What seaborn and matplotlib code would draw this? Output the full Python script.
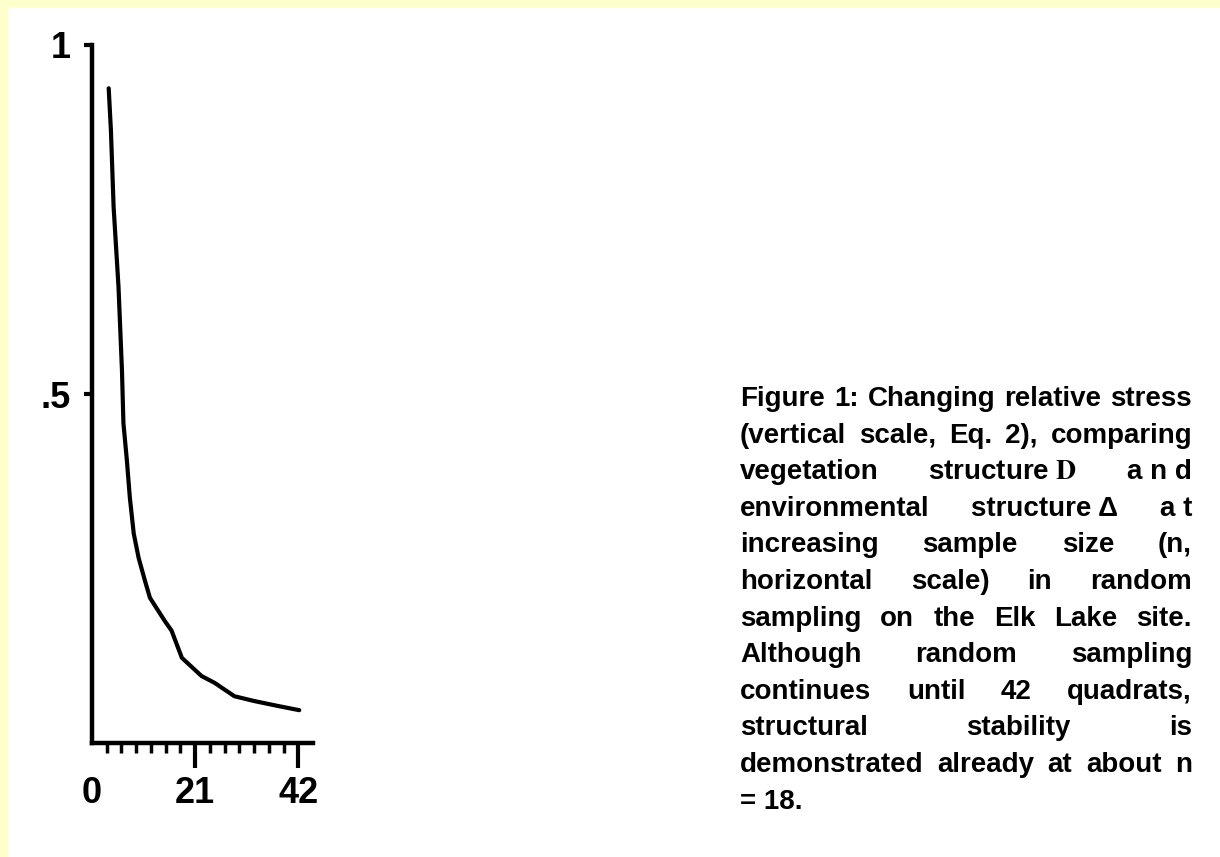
import matplotlib
matplotlib.use("Agg")
import matplotlib.pyplot as plt
import seaborn as sns
import pandas as pd
from matplotlib.patches import Rectangle

# ---- data ----
n_values = [3.4, 3.85, 4.4, 5.4, 6.1, 6.4, 7.1, 7.7, 8.5, 9.5, 10.8, 11.8,
            14.8, 16.2, 18.3, 22.3, 25.0, 29.0, 33.1, 37.9, 42.2]
stress = [0.938, 0.878, 0.768, 0.653, 0.534, 0.458, 0.405, 0.352, 0.300, 0.265,
          0.232, 0.208, 0.175, 0.161, 0.122, 0.096, 0.086, 0.067, 0.060, 0.053, 0.047]
x_major = [0, 21, 42]
x_major_labels = ["0", "21", "42"]
x_minor = [3, 6, 9, 12, 15, 18, 24, 27, 30, 33, 36, 39]
y_ticks = [0.5, 1.0]
y_labels = [".5", "1"]

caption_lines = [
    ["Figure", "1:", "Changing", "relative", "stress"],
    ["(vertical", "scale,", "Eq.", "2),", "comparing"],
    ["vegetation", r"structure $\mathbf{D}$", "a n d"],
    ["environmental", "structure \u0394", "a t"],
    ["increasing", "sample", "size", "(n,"],
    ["horizontal", "scale)", "in", "random"],
    ["sampling", "on", "the", "Elk", "Lake", "site."],
    ["Although", "random", "sampling"],
    ["continues", "until", "42", "quadrats,"],
    ["structural", "stability", "is"],
    ["demonstrated", "already", "at", "about", "n"],
    ["= 18."],
]

sns.set_theme(style="white")
plt.rcParams["font.family"] = ["Liberation Sans", "DejaVu Sans"]
plt.rcParams["mathtext.fontset"] = "stix"

W, H = 1220, 857
fig = plt.figure(figsize=(W / 100, H / 100), dpi=100)
fig.patch.set_facecolor("white")

# yellow page border (top and left)
yellow = "#ffffcc"
fig.patches.append(Rectangle((0, 1 - 6 / H), 1, 6 / H, transform=fig.transFigure,
                             color=yellow, zorder=0))
fig.patches.append(Rectangle((0, 0), 7 / W, 1, transform=fig.transFigure,
                             color=yellow, zorder=0))

left, right, top, bottom = 92, 313, 45, 743
ax = fig.add_axes([left / W, 1 - bottom / H, (right - left) / W, (bottom - top) / H])
ax.set_facecolor("none")

df = pd.DataFrame({"n": n_values, "stress": stress})
sns.lineplot(data=df, x="n", y="stress", color="black", linewidth=3.0, ax=ax)

ax.set_xlim(0, 45.0)
ax.set_ylim(0, 1)
for s in ["top", "right"]:
    ax.spines[s].set_visible(False)
for s in ["left", "bottom"]:
    ax.spines[s].set_color("black")
    ax.spines[s].set_linewidth(3.2)
ax.set_xlabel("")
ax.set_ylabel("")

ax.set_xticks(x_major)
ax.set_xticklabels(x_major_labels)
ax.set_xticks(x_minor, minor=True)
ax.set_yticks(y_ticks)
ax.set_yticklabels(y_labels)
ax.tick_params(axis="x", which="major", direction="out", length=18, width=3,
               color="black", labelsize=26, pad=6, bottom=True)
ax.tick_params(axis="x", which="minor", direction="out", length=7.5, width=2.5,
               color="black", bottom=True)
ax.tick_params(axis="y", which="major", direction="out", length=6, width=3,
               color="black", labelsize=26, pad=9, left=True)
ax.xaxis.get_major_ticks()[0].tick1line.set_visible(False)
for lab in ax.get_xticklabels() + ax.get_yticklabels():
    lab.set_color("black")
    lab.set_fontweight("bold")

# ---- justified caption ----
x0, x1 = 740, 1192
base0, pitch = 406, 36.6
fs = 20
fig.canvas.draw()
renderer = fig.canvas.get_renderer()
for i, words in enumerate(caption_lines):
    yb = 1 - (base0 + i * pitch) / H
    texts = [fig.text(0, yb, w, fontsize=fs, fontweight="bold", color="black",
                      va="baseline", ha="left", transform=fig.transFigure)
             for w in words]
    widths = [t.get_window_extent(renderer=renderer).width for t in texts]
    if len(words) == 1 or i == len(caption_lines) - 1:
        xs = x0
        for t, wdt in zip(texts, widths):
            t.set_x(xs / W)
            xs += wdt + 8
    else:
        gap = (x1 - x0 - sum(widths)) / (len(words) - 1)
        xs = x0
        for t, wdt in zip(texts, widths):
            t.set_x(xs / W)
            xs += wdt + gap

fig.savefig("out.png", dpi=100, facecolor=fig.get_facecolor())
